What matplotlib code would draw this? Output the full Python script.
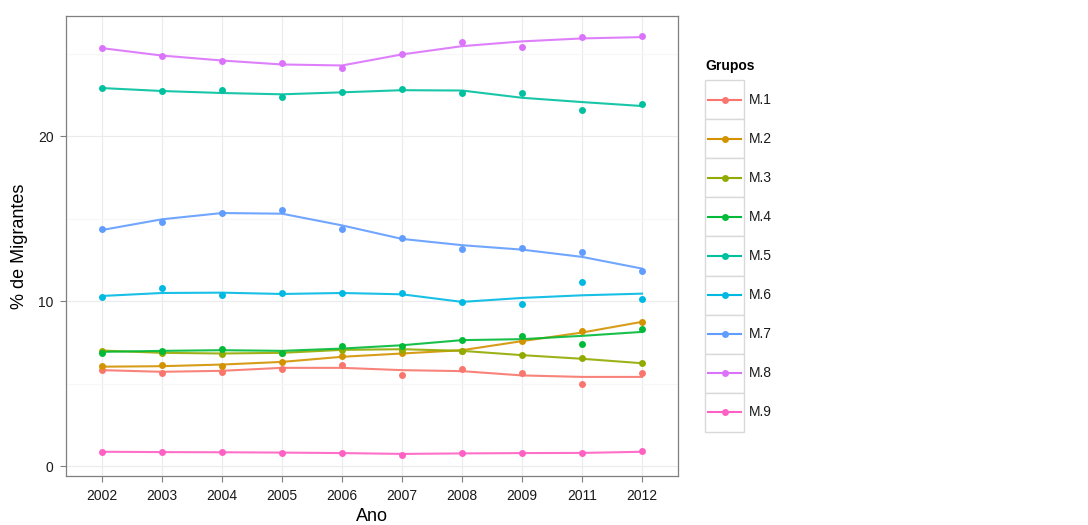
import matplotlib
matplotlib.use("Agg")
import matplotlib.pyplot as plt
from matplotlib.patches import Rectangle
from matplotlib.lines import Line2D

years = ["2002", "2003", "2004", "2005", "2006", "2007", "2008", "2009", "2011", "2012"]
groups = ["M.1", "M.2", "M.3", "M.4", "M.5", "M.6", "M.7", "M.8", "M.9"]
colors = ["#F8766D", "#D39200", "#93AA00", "#00BA38", "#00C19F",
          "#00B9E3", "#619CFF", "#DB72FB", "#FF61C3"]

# observed shares (%)
obs_m1 = [5.82, 5.66, 5.72, 5.88, 6.16, 5.52, 5.86, 5.62, 5.01, 5.62]
obs_m2 = [6.06, 6.12, 6.06, 6.32, 6.67, 6.89, 7.00, 7.60, 8.18, 8.75]
obs_m3 = [6.99, 6.83, 6.77, 6.83, 7.05, 7.03, 6.97, 6.73, 6.53, 6.24]
obs_m4 = [6.89, 6.99, 7.09, 6.89, 7.29, 7.29, 7.64, 7.90, 7.39, 8.30]
obs_m5 = [22.93, 22.73, 22.83, 22.38, 22.70, 22.85, 22.63, 22.60, 21.62, 21.98]
obs_m6 = [10.26, 10.80, 10.36, 10.52, 10.48, 10.50, 9.96, 9.82, 11.17, 10.16]
obs_m7 = [14.38, 14.79, 15.37, 15.52, 14.40, 13.86, 13.15, 13.25, 12.97, 11.82]
obs_m8 = [25.35, 24.90, 24.60, 24.44, 24.16, 24.97, 25.70, 25.39, 26.02, 26.06]
obs_m9 = [0.87, 0.85, 0.83, 0.81, 0.79, 0.69, 0.77, 0.79, 0.79, 0.89]

# smoothed trend per group
fit_m1 = [5.82, 5.72, 5.78, 5.96, 5.96, 5.82, 5.76, 5.50, 5.41, 5.41]
fit_m2 = [6.03, 6.06, 6.16, 6.32, 6.63, 6.83, 7.03, 7.58, 8.10, 8.75]
fit_m3 = [7.01, 6.87, 6.83, 6.87, 7.05, 7.09, 6.99, 6.73, 6.51, 6.24]
fit_m4 = [6.93, 6.99, 7.03, 6.99, 7.13, 7.33, 7.64, 7.70, 7.90, 8.14]
fit_m5 = [22.93, 22.75, 22.63, 22.55, 22.67, 22.80, 22.78, 22.34, 22.08, 21.84]
fit_m6 = [10.32, 10.50, 10.52, 10.44, 10.50, 10.42, 9.96, 10.20, 10.36, 10.46]
fit_m7 = [14.32, 14.97, 15.35, 15.31, 14.60, 13.78, 13.40, 13.13, 12.69, 11.98]
fit_m8 = [25.35, 24.90, 24.60, 24.36, 24.30, 24.97, 25.47, 25.76, 25.94, 26.02]
fit_m9 = [0.87, 0.85, 0.84, 0.82, 0.79, 0.74, 0.77, 0.79, 0.80, 0.87]

observed = [obs_m1, obs_m2, obs_m3, obs_m4, obs_m5, obs_m6, obs_m7, obs_m8, obs_m9]
fitted = [fit_m1, fit_m2, fit_m3, fit_m4, fit_m5, fit_m6, fit_m7, fit_m8, fit_m9]

yticks = [0, 10, 20]
minor_yticks = [5, 15, 25]

W, H = 1088, 525
plt.rcParams["font.family"] = ["Liberation Sans", "DejaVu Sans"]
fig = plt.figure(figsize=(W / 100, H / 100), dpi=100)
ax = fig.add_axes([66 / W, 1 - 476 / H, (678 - 66) / W, (476 - 16) / H])

x = list(range(len(years)))
for obs, fit, col in zip(observed, fitted, colors):
    ax.plot(x, fit, color=col, lw=1.5, alpha=0.9, zorder=3, solid_joinstyle="round")
    ax.plot(x, obs, "o", color=col, ms=5, mec="none", zorder=4)

ax.set_xlim(-0.6, len(years) - 0.4)
ax.set_ylim(-0.6, 27.3)
ax.set_xticks(x)
ax.set_xticklabels(years)
ax.set_yticks(yticks)
ax.set_yticks(minor_yticks, minor=True)
ax.grid(True, which="major", color="#EBEBEB", lw=0.8)
ax.grid(True, which="minor", axis="y", color="#F7F7F7", lw=0.8)
ax.set_axisbelow(True)
for s in ax.spines.values():
    s.set_color("#7F7F7F")
    s.set_linewidth(0.9)
ax.tick_params(axis="both", which="major", length=4, color="#7F7F7F",
               labelsize=10, labelcolor="#1A1A1A", pad=5)
ax.tick_params(axis="y", which="minor", length=0)
ax.set_xlabel("Ano", fontsize=13, labelpad=4)
ax.set_ylabel("% de Migrantes", fontsize=13, labelpad=7)

# legend drawn in figure pixel coordinates
def fx(px):
    return px / W

def fy(py):
    return 1 - py / H

fig.text(fx(705), fy(66), "Grupos", fontsize=10, fontweight="bold",
         ha="left", va="center")
key_top, key_h, key_l, key_w = 80, 39.1, 705, 39
for i, (g, col) in enumerate(zip(groups, colors)):
    top = key_top + i * key_h
    fig.add_artist(Rectangle((fx(key_l), fy(top + key_h)), key_w / W, key_h / H,
                             transform=fig.transFigure, facecolor="white",
                             edgecolor="#D9D9D9", lw=1.0))
    yc = fy(top + key_h / 2)
    fig.add_artist(Line2D([fx(key_l + 3), fx(key_l + key_w - 3)], [yc, yc],
                          transform=fig.transFigure, color=col, lw=1.5))
    fig.add_artist(Line2D([fx(key_l + key_w / 2)], [yc], transform=fig.transFigure,
                          marker="o", ms=5, color=col, mec="none"))
    fig.text(fx(749), yc, g, fontsize=10, ha="left", va="center", color="#1A1A1A")

fig.savefig("out.png", dpi=100)
